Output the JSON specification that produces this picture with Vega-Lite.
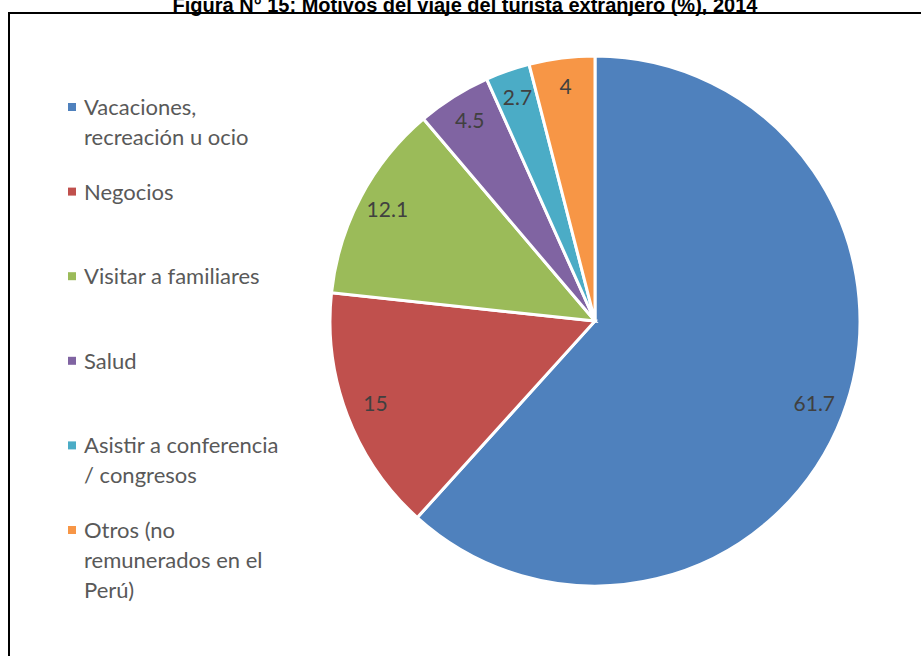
{
  "$schema": "https://vega.github.io/schema/vega-lite/v6.json",
  "autosize": {"type": "none"},
  "padding": {"left": 9, "top": 13, "right": 30, "bottom": -20},
  "width": 916,
  "height": 663,
  "background": "white",
  "view": {"stroke": "#000000", "strokeWidth": 2},
  "title": {
    "text": "Figura N° 15: Motivos del viaje del turista extranjero (%), 2014",
    "font": "Liberation Sans",
    "fontSize": 20,
    "fontWeight": "bold",
    "color": "#000000",
    "anchor": "middle",
    "baseline": "alphabetic",
    "offset": 0,
    "dy": 19,
    "dx": -2
  },
  "config": {
    "view": {"stroke": "#000000", "strokeWidth": 2},
    "style": {
      "view": {"stroke": "#000000", "strokeWidth": 2},
      "guide-label": {"lineHeight": 30, "dy": 8}
    },
    "legend": {"labelFont": "Lato", "labelColor": "#595959"}
  },
  "data": {
    "values": [
      {"motivo": "Vacaciones, recreación u ocio", "pct": 61.7, "n": 1},
      {"motivo": "Negocios", "pct": 15, "n": 2},
      {"motivo": "Visitar a familiares", "pct": 12.1, "n": 3},
      {"motivo": "Salud", "pct": 4.5, "n": 4},
      {"motivo": "Asistir a conferencia / congresos", "pct": 2.7, "n": 5},
      {"motivo": "Otros (no remunerados en el Perú)", "pct": 4, "n": 6}
    ]
  },
  "encoding": {
    "theta": {"field": "pct", "type": "quantitative", "stack": true},
    "order": {"field": "n", "type": "quantitative"}
  },
  "layer": [
    {
      "mark": {"type": "arc", "outerRadius": 265, "stroke": "#ffffff", "strokeWidth": 3, "xOffset": 128, "yOffset": -23.5},
      "encoding": {
        "color": {
          "field": "motivo",
          "type": "nominal",
          "scale": {
            "domain": ["Vacaciones, recreación u ocio", "Negocios", "Visitar a familiares", "Salud", "Asistir a conferencia / congresos", "Otros (no remunerados en el Perú)"],
            "range": ["#4F81BD", "#C0504D", "#9BBB59", "#8064A2", "#4BACC6", "#F79646"]
          },
          "legend": {
            "title": null,
            "orient": "none",
            "legendX": 52,
            "legendY": 83,
            "symbolType": "square",
            "symbolSize": 64,
            "symbolStrokeWidth": 0,
            "labelFontSize": 22,
            "labelLimit": 0,
            "labelOffset": 1,
            "labelBaseline": "alphabetic",
            "rowPadding": 1.6,
            "labelExpr": "datum.label == 'Vacaciones, recreación u ocio' ? ['Vacaciones,', 'recreación u ocio', ''] : datum.label == 'Asistir a conferencia / congresos' ? ['Asistir a conferencia', '/ congresos', ''] : datum.label == 'Otros (no remunerados en el Perú)' ? ['Otros (no', 'remunerados en el', 'Perú)'] : [datum.label, '', '']"
          }
        }
      }
    },
    {
      "mark": {"type": "text", "radius": 235, "font": "Lato", "fontSize": 21, "color": "#404040", "xOffset": 128, "yOffset": -23.5},
      "encoding": {
        "text": {"field": "pct", "type": "quantitative"}
      }
    }
  ]
}
